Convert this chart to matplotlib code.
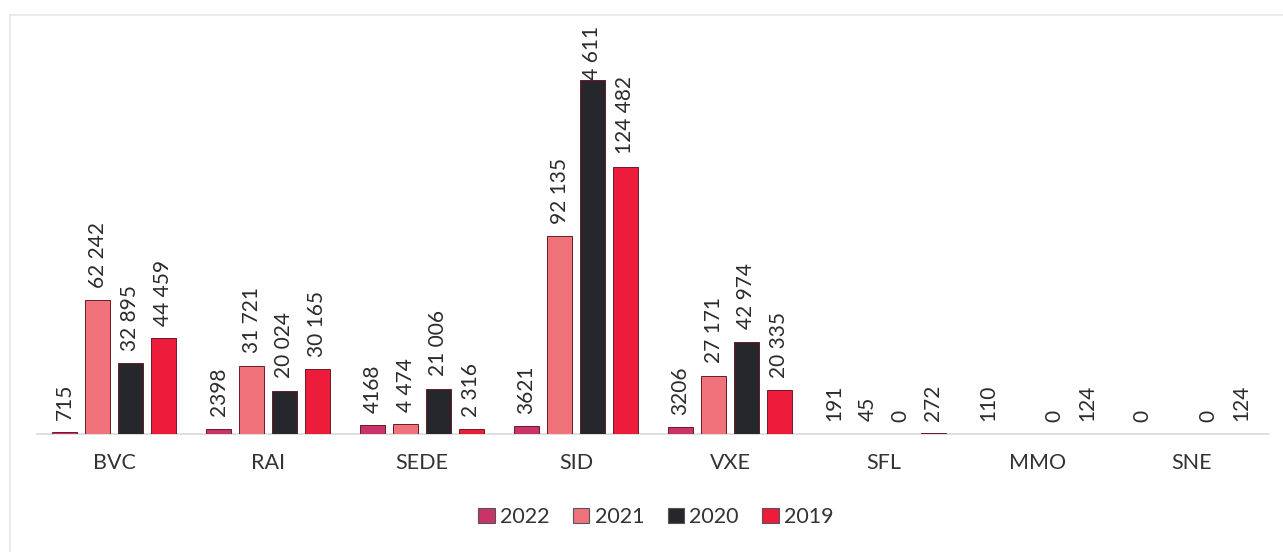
import numpy as np
import matplotlib.pyplot as plt
from matplotlib.lines import Line2D

plt.rcParams['font.family'] = ['Lato', 'DejaVu Sans']

categories = ["BVC", "RAI", "SEDE", "SID", "VXE", "SFL", "MMO", "SNE"]
years = ["2022", "2021", "2020", "2019"]
# None = no value shown in the source
v2022 = [715, 2398, 4168, 3621, 3206, 191, 110, 0]
v2021 = [62242, 31721, 4474, 92135, 27171, 45, None, None]
v2020 = [32895, 20024, 21006, 164611, 42974, 0, 0, 0]
v2019 = [44459, 30165, 2316, 124482, 20335, 272, 124, 124]
series = [v2022, v2021, v2020, v2019]
colors = ["#c8336a", "#f0737b", "#26272d", "#ec1c3a"]


def fmt(v):
    # thousands separated by a space, except the 2022 series (as in the source)
    return "{:,}".format(v).replace(",", " ")


W, H = 1283, 552
fig = plt.figure(figsize=(W / 100, H / 100), dpi=100)
ax = fig.add_axes([37 / W, 1 - 434 / H, (1269 - 37) / W, (434 - 15) / H])

x = np.arange(len(categories))
pitch = 0.214
width = 0.166
ymax = 195000

for k, (vals, col) in enumerate(zip(series, colors)):
    xs = x + (k - 1.5) * pitch
    heights = [np.nan if v is None else v for v in vals]
    ax.bar(xs, heights, width, color=col, edgecolor="#6a1a26", linewidth=0.7, zorder=3)
    for xi, v in zip(xs, vals):
        if v is None:
            continue
        label = str(v) if k == 0 else fmt(v)
        if v > 0.8 * ymax:
            # label doesn't fit above: pinned to the top, partly behind the bar
            ax.text(xi, 0.975, label, transform=ax.get_xaxis_transform(),
                    rotation=90, ha="center", va="top", fontsize=15,
                    color="#2b2b2b", zorder=2)
        else:
            ax.annotate(label, (xi, v), xytext=(0, 9), textcoords="offset points",
                        rotation=90, ha="center", va="bottom", fontsize=15,
                        color="#2b2b2b", zorder=4)

ax.set_xlim(-0.5, len(categories) - 0.5)
ax.set_ylim(0, ymax)
ax.set_xticks(x)
ax.set_xticklabels(categories, fontsize=15.5, color="#333333")
ax.tick_params(axis="x", length=0, pad=14)
ax.set_yticks([])
for s in ["top", "right", "left"]:
    ax.spines[s].set_visible(False)
ax.spines["bottom"].set_color("#d9d9d9")
ax.spines["bottom"].set_linewidth(1.2)

# faint chart border
fig.add_artist(Line2D([10 / W, 1.0], [1 - 15 / H, 1 - 15 / H], color="#e6e6e6", lw=1.2))
fig.add_artist(Line2D([10 / W, 10 / W], [1 - 15 / H, 0], color="#e6e6e6", lw=1.2))

handles = [plt.Rectangle((0, 0), 1, 1, facecolor=c, edgecolor="#555555", linewidth=0.8)
           for c in colors]
fig.legend(handles, years, loc="center", bbox_to_anchor=(656 / W, 1 - 517 / H),
           ncol=4, frameon=False, fontsize=15.5, handlelength=0.75, handleheight=0.75,
           handletextpad=0.25, columnspacing=1.1, labelcolor="#333333")

fig.savefig("out.png", dpi=100, facecolor="white")
